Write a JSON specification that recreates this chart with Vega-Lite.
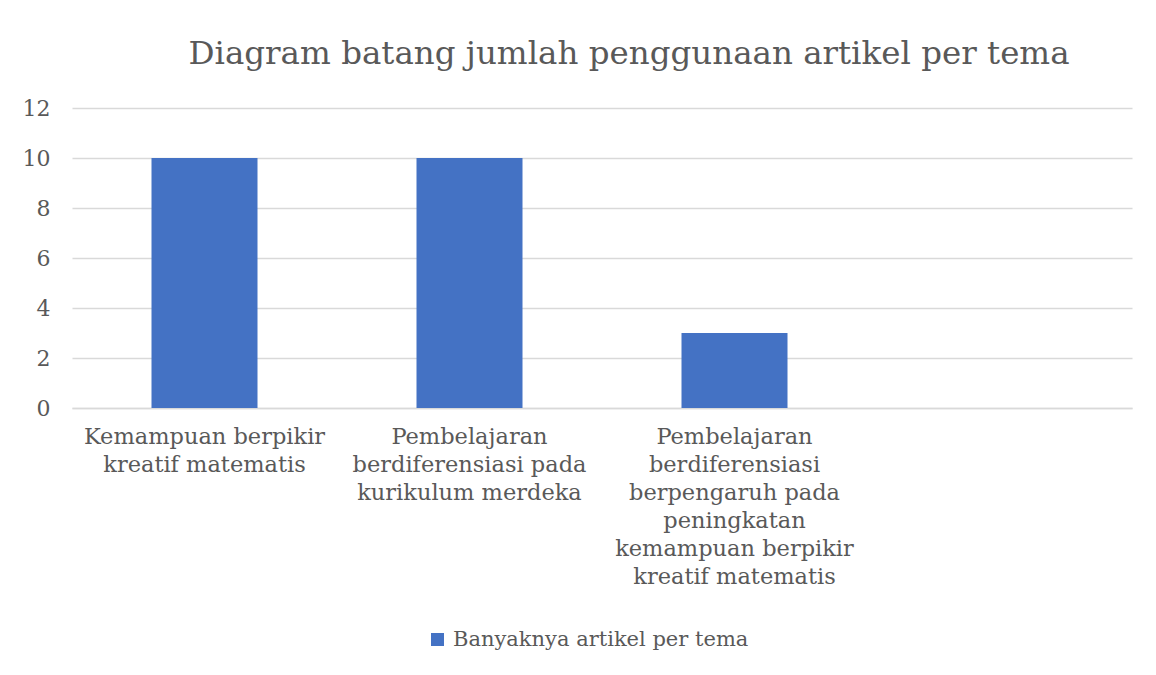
{
  "$schema": "https://vega.github.io/schema/vega-lite/v6.json",
  "width": 1060,
  "height": 300,
  "autosize": {"type": "none"},
  "padding": {"left": 72, "top": 108, "right": 24, "bottom": 267},
  "background": "white",
  "title": {
    "text": "Diagram batang jumlah penggunaan artikel per tema",
    "font": "DejaVu Serif",
    "fontSize": 32.5,
    "fontWeight": "normal",
    "color": "#595959",
    "anchor": "middle",
    "dx": 27,
    "offset": 27
  },
  "data": {
    "values": [
      {"tema": "Kemampuan berpikir kreatif matematis", "jumlah": 10},
      {"tema": "Pembelajaran berdiferensiasi pada kurikulum merdeka", "jumlah": 10},
      {"tema": "Pembelajaran berdiferensiasi berpengaruh pada peningkatan kemampuan berpikir kreatif matematis", "jumlah": 3}
    ]
  },
  "mark": {"type": "bar"},
  "encoding": {
    "x": {
      "field": "tema",
      "type": "nominal",
      "sort": null,
      "scale": {
        "domain": [
          "Kemampuan berpikir kreatif matematis",
          "Pembelajaran berdiferensiasi pada kurikulum merdeka",
          "Pembelajaran berdiferensiasi berpengaruh pada peningkatan kemampuan berpikir kreatif matematis",
          " "
        ],
        "paddingInner": 0.6,
        "paddingOuter": 0.3
      },
      "axis": {
        "title": null,
        "labelAngle": 0,
        "labelFont": "DejaVu Serif",
        "labelFontSize": 22.5,
        "labelColor": "#595959",
        "labelLineHeight": 28,
        "labelBaseline": "top",
        "labelPadding": 17,
        "labelLimit": 400,
        "ticks": false,
        "domainColor": "#D9D9D9",
        "domainWidth": 1.5,
        "labelExpr": "datum.value == 'Kemampuan berpikir kreatif matematis' ? ['Kemampuan berpikir', 'kreatif matematis'] : datum.value == 'Pembelajaran berdiferensiasi pada kurikulum merdeka' ? ['Pembelajaran', 'berdiferensiasi pada', 'kurikulum merdeka'] : datum.value == ' ' ? '' : ['Pembelajaran', 'berdiferensiasi', 'berpengaruh pada', 'peningkatan', 'kemampuan berpikir', 'kreatif matematis']"
      }
    },
    "y": {
      "field": "jumlah",
      "type": "quantitative",
      "scale": {"domain": [0, 12]},
      "axis": {
        "title": null,
        "values": [0, 2, 4, 6, 8, 10, 12],
        "labelFont": "DejaVu Serif",
        "labelFontSize": 22,
        "labelColor": "#595959",
        "labelPadding": 22,
        "ticks": false,
        "domain": false,
        "grid": true,
        "gridColor": "#D9D9D9",
        "gridWidth": 1.5
      }
    },
    "color": {
      "datum": "Banyaknya artikel per tema",
      "scale": {"range": ["#4472C4"]},
      "legend": {
        "title": null,
        "orient": "none",
        "legendX": 355,
        "legendY": 521,
        "symbolType": "square",
        "symbolSize": 169,
        "symbolStrokeWidth": 0,
        "labelFont": "DejaVu Serif",
        "labelFontSize": 21,
        "labelColor": "#595959",
        "labelOffset": 5,
        "labelLimit": 500
      }
    }
  },
  "config": {"view": {"stroke": null}}
}
